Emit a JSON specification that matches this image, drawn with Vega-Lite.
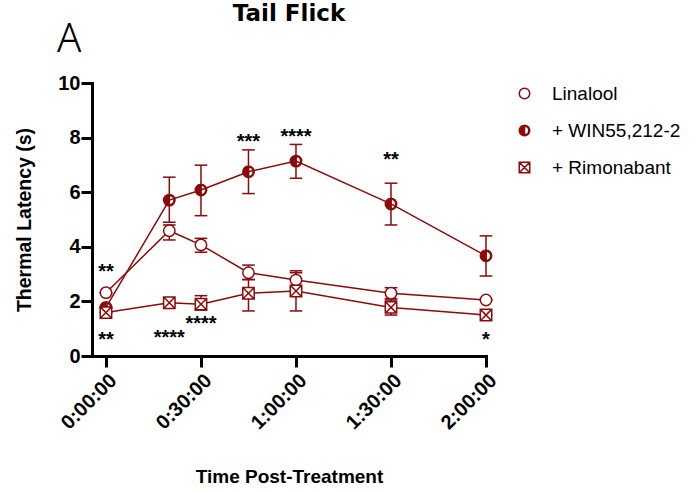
{
  "$schema": "https://vega.github.io/schema/vega-lite/v6.json",
  "width": 394,
  "height": 273,
  "autosize": {"type": "none"},
  "padding": {"left": 92, "top": 83, "right": 211, "bottom": 136},
  "background": "white",
  "title": {"text": "Tail Flick", "font": "DejaVu Sans", "fontSize": 23, "fontWeight": "bold", "anchor": "middle", "frame": "group", "offset": -6, "color": "black"},
  "config": {
    "view": {"stroke": null},
    "axis": {"grid": false, "domainColor": "black", "domainWidth": 3, "tickColor": "black", "tickWidth": 3, "tickSize": 11, "labelFont": "Liberation Sans", "labelFontWeight": "bold", "labelColor": "black", "titleFont": "Liberation Sans", "titleFontWeight": "bold", "titleColor": "black", "domainCap": "square"},
    "legend": {"orient": "none", "legendX": 423, "legendY": 1, "labelFont": "Liberation Sans", "labelFontSize": 19, "labelColor": "black", "symbolSize": 110, "symbolStrokeWidth": 1.5, "rowPadding": 17, "labelOffset": 18}
  },
  "datasets": {
    "series": [
      {"group": "Linalool", "t": 0, "mean": 2.32, "lo": 2.32, "hi": 2.32},
      {"group": "Linalool", "t": 20, "mean": 4.59, "lo": 4.25, "hi": 4.8},
      {"group": "Linalool", "t": 30, "mean": 4.07, "lo": 3.8, "hi": 4.31},
      {"group": "Linalool", "t": 45, "mean": 3.05, "lo": 2.8, "hi": 3.33},
      {"group": "Linalool", "t": 60, "mean": 2.78, "lo": 2.5, "hi": 3.05},
      {"group": "Linalool", "t": 90, "mean": 2.3, "lo": 2.1, "hi": 2.5},
      {"group": "Linalool", "t": 120, "mean": 2.05, "lo": 2.05, "hi": 2.05},
      {"group": "+ WIN55,212-2", "t": 0, "mean": 1.78, "lo": 1.78, "hi": 1.78},
      {"group": "+ WIN55,212-2", "t": 20, "mean": 5.71, "lo": 4.9, "hi": 6.55},
      {"group": "+ WIN55,212-2", "t": 30, "mean": 6.08, "lo": 5.14, "hi": 6.99},
      {"group": "+ WIN55,212-2", "t": 45, "mean": 6.75, "lo": 5.95, "hi": 7.55},
      {"group": "+ WIN55,212-2", "t": 60, "mean": 7.14, "lo": 6.51, "hi": 7.75},
      {"group": "+ WIN55,212-2", "t": 90, "mean": 5.57, "lo": 4.8, "hi": 6.33},
      {"group": "+ WIN55,212-2", "t": 120, "mean": 3.67, "lo": 2.93, "hi": 4.4},
      {"group": "+ Rimonabant", "t": 0, "mean": 1.59, "lo": 1.59, "hi": 1.59},
      {"group": "+ Rimonabant", "t": 20, "mean": 1.95, "lo": 1.95, "hi": 1.95},
      {"group": "+ Rimonabant", "t": 30, "mean": 1.9, "lo": 1.68, "hi": 2.21},
      {"group": "+ Rimonabant", "t": 45, "mean": 2.3, "lo": 1.65, "hi": 2.8},
      {"group": "+ Rimonabant", "t": 60, "mean": 2.38, "lo": 1.65, "hi": 3.12},
      {"group": "+ Rimonabant", "t": 90, "mean": 1.78, "lo": 1.5, "hi": 2.05},
      {"group": "+ Rimonabant", "t": 120, "mean": 1.5, "lo": 1.5, "hi": 1.5}
    ],
    "stars": [
      {"t": 0, "v": 3.27, "label": "**"},
      {"t": 0, "v": 0.77, "label": "**"},
      {"t": 20, "v": 0.83, "label": "****"},
      {"t": 30, "v": 1.34, "label": "****"},
      {"t": 45, "v": 8.03, "label": "***"},
      {"t": 60, "v": 8.22, "label": "****"},
      {"t": 90, "v": 7.36, "label": "**"},
      {"t": 120, "v": 0.77, "label": "*"}
    ],
    "panel": [{"t": -11.6, "v": 11.12, "label": "A"}]
  },
  "layer": [
    {
      "data": {"name": "series"},
      "mark": {"type": "line", "color": "#8B0A0A", "strokeWidth": 1.5},
      "encoding": {
        "x": {"field": "t", "type": "quantitative", "scale": {"domain": [-4.41, 120], "nice": false, "zero": false}, "title": "Time Post-Treatment",
          "axis": {"values": [0, 30, 60, 90, 120], "labelAngle": -45, "labelFontSize": 20, "labelPadding": 3, "titleFontSize": 19, "titlePadding": 35, "labelExpr": "floor(datum.value/60) + ':' + (datum.value%60 < 10 ? '0' : '') + (datum.value%60) + ':00'"}},
        "y": {"field": "mean", "type": "quantitative", "scale": {"domain": [0, 10], "nice": false}, "title": "Thermal Latency (s)",
          "axis": {"values": [0, 2, 4, 6, 8, 10], "labelFontSize": 20, "labelPadding": 1, "titleFontSize": 19.5, "titlePadding": 23}},
        "detail": {"field": "group"}
      }
    },
    {
      "data": {"name": "series"},
      "mark": {"type": "rule", "color": "#8B0A0A", "strokeWidth": 1.5},
      "encoding": {
        "x": {"field": "t", "type": "quantitative", "title": "Time Post-Treatment"},
        "y": {"field": "lo", "type": "quantitative", "title": "Thermal Latency (s)"},
        "y2": {"field": "hi"}
      }
    },
    {
      "data": {"name": "series"},
      "mark": {"type": "point", "shape": "stroke", "size": 160, "color": "#8B0A0A", "strokeWidth": 1.5, "opacity": 1},
      "encoding": {
        "x": {"field": "t", "type": "quantitative", "title": "Time Post-Treatment"},
        "y": {"field": "lo", "type": "quantitative", "title": "Thermal Latency (s)"}
      }
    },
    {
      "data": {"name": "series"},
      "mark": {"type": "point", "shape": "stroke", "size": 160, "color": "#8B0A0A", "strokeWidth": 1.5, "opacity": 1},
      "encoding": {
        "x": {"field": "t", "type": "quantitative", "title": "Time Post-Treatment"},
        "y": {"field": "hi", "type": "quantitative", "title": "Thermal Latency (s)"}
      }
    },
    {
      "data": {"name": "series"},
      "mark": {"type": "point", "size": 130, "strokeWidth": 1.5, "opacity": 1, "filled": false},
      "encoding": {
        "x": {"field": "t", "type": "quantitative", "title": "Time Post-Treatment"},
        "y": {"field": "mean", "type": "quantitative", "title": "Thermal Latency (s)"},
        "shape": {"field": "group", "type": "nominal", "scale": {"domain": ["Linalool", "+ WIN55,212-2", "+ Rimonabant"], "range": ["circle", "M0,-1 A1,1 0 0,0 0,1 Z M0,-1 A1,1 0 0,1 0,1 L0,0.82 A0.82,0.82 0 0,0 0,-0.82 Z", "M-1,-1 L1,-1 L1,1 L-1,1 Z M-1,-1 L1,1 M1,-1 L-1,1"]}, "legend": {"title": null}},
        "fill": {"field": "group", "type": "nominal", "scale": {"domain": ["Linalool", "+ WIN55,212-2", "+ Rimonabant"], "range": ["white", "#8B0A0A", "white"]}, "legend": {"title": null}},
        "stroke": {"field": "group", "type": "nominal", "scale": {"domain": ["Linalool", "+ WIN55,212-2", "+ Rimonabant"], "range": ["#8B0A0A", "#8B0A0A", "#8B0A0A"]}, "legend": {"title": null}}
      }
    },
    {
      "data": {"name": "stars"},
      "mark": {"type": "text", "font": "Liberation Sans", "fontSize": 20, "fontWeight": "bold", "color": "black", "align": "center", "baseline": "alphabetic", "dy": 11},
      "encoding": {
        "x": {"field": "t", "type": "quantitative", "title": "Time Post-Treatment"},
        "y": {"field": "v", "type": "quantitative", "title": "Thermal Latency (s)"},
        "text": {"field": "label"}
      }
    },
    {
      "data": {"name": "panel"},
      "mark": {"type": "text", "font": "Noto Sans", "fontSize": 40, "fontWeight": 300, "color": "black", "align": "center", "baseline": "alphabetic"},
      "encoding": {
        "x": {"field": "t", "type": "quantitative", "title": "Time Post-Treatment"},
        "y": {"field": "v", "type": "quantitative", "title": "Thermal Latency (s)"},
        "text": {"field": "label"}
      }
    }
  ]
}
